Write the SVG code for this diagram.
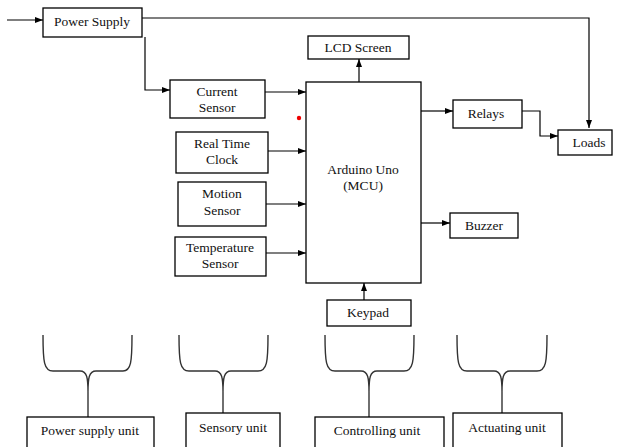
<svg xmlns="http://www.w3.org/2000/svg" width="620" height="447" viewBox="0 0 620 447">
<style>
.box{fill:#fff;stroke:#000;stroke-width:1.3}
text{font-family:'Liberation Serif','DejaVu Serif','Times New Roman',serif;font-size:13.5px;fill:#111;text-anchor:middle}
.ln{fill:none;stroke:#000;stroke-width:1.2}
.br{fill:none;stroke:#333;stroke-width:1.4}
</style>
<defs>
<marker id="ah" viewBox="0 0 8 8" refX="8" refY="4" markerWidth="8" markerHeight="8" markerUnits="userSpaceOnUse" orient="auto">
<path d="M0,1 L8,4 L0,7 Z" fill="#000"/>
</marker>
</defs>
<rect width="620" height="447" fill="#fff"/>
<g id="connectors">
<path class="ln" d="M7,20 H43" marker-end="url(#ah)"/>
<path class="ln" d="M142,18 H589 V128" marker-end="url(#ah)"/>
<path class="ln" d="M145,37 V90 H170" marker-end="url(#ah)"/>
<path class="ln" d="M265,92 H306" marker-end="url(#ah)"/>
<path class="ln" d="M268,151 H306" marker-end="url(#ah)"/>
<path class="ln" d="M266,204 H306" marker-end="url(#ah)"/>
<path class="ln" d="M266,253 H306" marker-end="url(#ah)"/>
<path class="ln" d="M359,82 V59" marker-end="url(#ah)"/>
<path class="ln" d="M421,111 H453" marker-end="url(#ah)"/>
<path class="ln" d="M522,111 H540 V136 H558" marker-end="url(#ah)"/>
<path class="ln" d="M421,223 H450" marker-end="url(#ah)"/>
<path class="ln" d="M364,300 V283" marker-end="url(#ah)"/>
</g>
<circle cx="299" cy="118" r="2.2" fill="#e00"/>
<g id="power-supply"><rect class="box" x="43" y="8" width="99" height="29"/><text x="92" y="26">Power Supply</text></g>
<g id="current-sensor"><rect class="box" x="170" y="80" width="95" height="38"/><text x="217" y="96">Current</text><text x="217" y="112">Sensor</text></g>
<g id="rtc"><rect class="box" x="176" y="132" width="92" height="41"/><text x="222" y="148">Real Time</text><text x="222" y="164">Clock</text></g>
<g id="motion-sensor"><rect class="box" x="178" y="182" width="88" height="44"/><text x="222" y="198">Motion</text><text x="222" y="215">Sensor</text></g>
<g id="temperature-sensor"><rect class="box" x="175" y="237" width="91" height="39"/><text x="220" y="252">Temperature</text><text x="220" y="268">Sensor</text></g>
<g id="arduino"><rect class="box" x="306" y="82" width="115" height="201"/><text x="363" y="174">Arduino Uno</text><text x="363" y="190">(MCU)</text></g>
<g id="lcd"><rect class="box" x="308" y="36" width="101" height="23"/><text x="358" y="52">LCD Screen</text></g>
<g id="relays"><rect class="box" x="453" y="100" width="69" height="28"/><text x="486" y="118">Relays</text></g>
<g id="loads"><rect class="box" x="558" y="130" width="54" height="25"/><text x="589" y="147">Loads</text></g>
<g id="buzzer"><rect class="box" x="450" y="213" width="68" height="25"/><text x="484" y="230">Buzzer</text></g>
<g id="keypad"><rect class="box" x="327" y="300" width="84" height="26"/><text x="368" y="317">Keypad</text></g>
<g id="brace-power">
<path class="br" d="M43,335 C43,362 44,371 53,371 L80,371 C87,371 88,378 88,392 C88,378 89,371 96,371 L123,371 C131,371 132,362 132,335"/>
<path class="br" d="M88,392 V417"/>
<rect class="box" x="27" y="417" width="127" height="40"/><text x="90" y="435">Power supply unit</text></g>
<g id="brace-sensory">
<path class="br" d="M179,335 C179,362 180,371 189,371 L215,371 C222,371 223,378 223,392 C223,378 224,371 231,371 L258,371 C267,371 268,362 268,335"/>
<path class="br" d="M223,392 V413"/>
<rect class="box" x="186" y="413" width="94" height="44"/><text x="233" y="432">Sensory unit</text></g>
<g id="brace-controlling">
<path class="br" d="M325,335 C325,362 326,371 335,371 L361,371 C368,371 369,378 369,392 C369,378 370,371 377,371 L404,371 C413,371 414,362 414,335"/>
<path class="br" d="M369,392 V417"/>
<rect class="box" x="315" y="417" width="129" height="40"/><text x="377" y="435">Controlling unit</text></g>
<g id="brace-actuating">
<path class="br" d="M457,335 C457,362 458,371 467,371 L494,371 C501,371 502,378 502,392 C502,378 503,371 510,371 L537,371 C546,371 547,362 547,335"/>
<path class="br" d="M502,392 V413"/>
<rect class="box" x="453" y="413" width="109" height="44"/><text x="507" y="432">Actuating unit</text></g>
</svg>
